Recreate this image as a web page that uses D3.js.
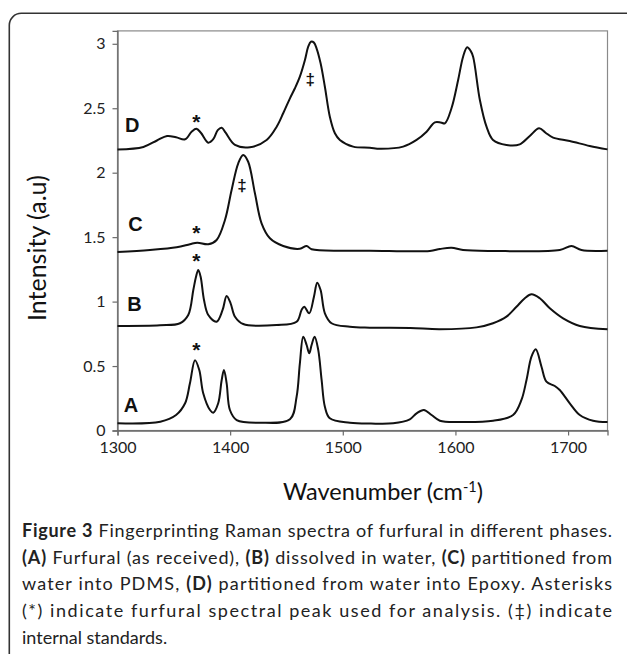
<!DOCTYPE html>
<html>
<head>
<meta charset="utf-8">
<script src="https://cdn.jsdelivr.net/npm/d3@7"></script>
<style>
  html, body { margin: 0; padding: 0; background: #fff; }
  svg { display: block; }
</style>
</head>
<body>
<svg id="chart" width="627" height="654"></svg>
<script>
// ---------------- DATA ----------------
const xTicks = [1300, 1400, 1500, 1600, 1700];
const yTicks = [0, 0.5, 1, 1.5, 2, 2.5, 3];
const xLabel = "Wavenumber (cm";
const yLabel = "Intensity (a.u)";

// [wavenumber, intensity]
const spectrumA = [
  [1300, 0.056], [1338, 0.068], [1352, 0.12], [1360, 0.211], [1364.3, 0.366],
  [1368.8, 0.545], [1372.6, 0.469], [1376.1, 0.289], [1382.1, 0.159], [1385, 0.138],
  [1389.4, 0.211], [1392.5, 0.392], [1394.5, 0.469], [1396.9, 0.366], [1399.8, 0.159],
  [1405.8, 0.081], [1426.4, 0.061], [1453.1, 0.087], [1459, 0.262], [1461.9, 0.521],
  [1464.9, 0.728], [1467.9, 0.663], [1470.2, 0.599], [1472.3, 0.663], [1475, 0.728],
  [1478.2, 0.625], [1481.2, 0.392], [1484.1, 0.185], [1488.5, 0.095], [1506.3, 0.061],
  [1525, 0.054], [1544.7, 0.056], [1559.5, 0.087], [1565.5, 0.133], [1572, 0.159],
  [1578.8, 0.12], [1586.2, 0.076], [1603.9, 0.066], [1633.4, 0.076], [1651.2, 0.12],
  [1658.6, 0.237], [1663.1, 0.392], [1667.5, 0.573], [1671.3, 0.63], [1676.4, 0.495],
  [1680.8, 0.379], [1688.2, 0.345], [1692.6, 0.314], [1701.5, 0.211], [1710.4, 0.12],
  [1722.2, 0.076], [1735, 0.066]
];
const spectrumB = [
  [1300, 0.811], [1337.7, 0.816], [1355.5, 0.832], [1362.8, 0.896], [1367.3, 1.09],
  [1369.7, 1.193], [1371.7, 1.245], [1373.8, 1.193], [1376.8, 1.012], [1380.6, 0.896],
  [1388, 0.844], [1393.3, 0.935], [1396.9, 1.043], [1400.4, 0.987], [1404.3, 0.883],
  [1411.6, 0.826], [1441.3, 0.818], [1459, 0.844], [1463.4, 0.935], [1465.8, 0.96],
  [1470.2, 0.909], [1474.4, 1.038], [1477.3, 1.147], [1480.3, 1.09], [1484.1, 0.909],
  [1490, 0.832], [1506.3, 0.805], [1524, 0.798], [1560, 0.795], [1586, 0.786],
  [1618.7, 0.8], [1633.4, 0.832], [1645.3, 0.883], [1654.2, 0.96], [1661.6, 1.026],
  [1667.5, 1.057], [1674.9, 1.026], [1683.8, 0.948], [1695.6, 0.87], [1710.4, 0.811],
  [1735, 0.785]
];
const spectrumC = [
  [1300, 1.385], [1328.8, 1.4], [1352.5, 1.421], [1364.3, 1.445], [1370.8, 1.457],
  [1380.6, 1.445], [1388, 1.478], [1395.4, 1.633], [1401.3, 1.866], [1407.2, 2.073],
  [1411.6, 2.137], [1416, 2.085], [1422, 1.84], [1427.9, 1.607], [1435.3, 1.491],
  [1447.1, 1.431], [1461.9, 1.41], [1467.9, 1.431], [1472.3, 1.406], [1500.4, 1.395],
  [1524, 1.395], [1577.3, 1.393], [1586.2, 1.408], [1596.5, 1.418], [1606.8, 1.4],
  [1633.4, 1.393], [1692.6, 1.4], [1703, 1.431], [1711.9, 1.4], [1735, 1.395]
];
const spectrumD = [
  [1300, 2.18], [1323, 2.2], [1335, 2.25], [1344, 2.285], [1352, 2.275], [1360, 2.259],
  [1366, 2.32], [1370, 2.341], [1374, 2.31], [1380.6, 2.233], [1385, 2.26], [1389, 2.33],
  [1392.5, 2.349], [1396, 2.31], [1404.3, 2.215], [1417.6, 2.197], [1432.4, 2.254],
  [1441.3, 2.357], [1447.1, 2.461], [1453.1, 2.577], [1457.5, 2.655], [1461.9, 2.745],
  [1466.4, 2.874], [1469.3, 2.978], [1471.7, 3.016], [1474.4, 3.009], [1476.7, 2.965],
  [1480.3, 2.849], [1484.1, 2.667], [1488.5, 2.434], [1493, 2.306], [1497.4, 2.254],
  [1509.2, 2.202], [1524, 2.194], [1533, 2.186], [1553.6, 2.202], [1565.5, 2.254],
  [1574.4, 2.318], [1581.7, 2.391], [1587, 2.39], [1590.6, 2.383], [1596.5, 2.5],
  [1602.4, 2.719], [1606.8, 2.9], [1610.4, 2.973], [1613.5, 2.945], [1615.7, 2.9],
  [1621.7, 2.564], [1627.6, 2.357], [1633.4, 2.254], [1645.3, 2.215], [1657.1, 2.22],
  [1666, 2.285], [1674.3, 2.344], [1680, 2.31], [1686.7, 2.272], [1701.5, 2.246],
  [1719.2, 2.207], [1735, 2.181]
];
const spectra = [spectrumA, spectrumB, spectrumC, spectrumD];

// series letter labels: [text, wavenumber, intensity(baseline)]
const seriesLabels = [["A", 1312, 0.14], ["B", 1315, 0.927], ["C", 1316, 1.548], ["D", 1313, 2.316]];
// asterisks (analysis peak) and double daggers (internal standards): [symbol, wavenumber, intensity(center)]
const markers = [
  ["*", 1370, 0.644], ["*", 1370, 1.338], ["*", 1370, 1.552], ["*", 1370, 2.416],
  ["\u2021", 1410.5, 1.908], ["\u2021", 1471, 2.723]
];

const captionLines = [
  [["Figure 3", true], [" Fingerprinting Raman spectra of furfural in different phases.", false]],
  [["(A)", true], [" Furfural (as received), ", false], ["(B)", true], [" dissolved in water, ", false], ["(C)", true], [" partitioned from", false]],
  [["water into PDMS, ", false], ["(D)", true], [" partitioned from water into Epoxy. Asterisks", false]],
  [["(*) indicate furfural spectral peak used for analysis. (\u2021) indicate", false]],
  [["internal standards.", false]]
];

// ---------------- DRAWING ----------------
const svg = d3.select("#chart");
const plot = { left: 117.5, right: 607.5, top: 30.9, bottom: 430.5 };

const x = d3.scaleLinear().domain([1300, 1735]).range([plot.left, plot.right]);
const y = d3.scaleLinear().domain([0, 3.1]).range([plot.bottom, plot.top]);

// outer rounded frame
svg.append("rect")
  .attr("x", 9.3).attr("y", 13.3).attr("width", 630).attr("height", 700)
  .attr("rx", 12).attr("ry", 12)
  .attr("fill", "none").attr("stroke", "#333").attr("stroke-width", 1.6);

// plot box (top/right)
svg.append("rect")
  .attr("x", plot.left).attr("y", plot.top)
  .attr("width", plot.right - plot.left).attr("height", plot.bottom - plot.top)
  .attr("fill", "none").attr("stroke", "#8a8a8a").attr("stroke-width", 1.2);

const tickFont = "Lato, 'Open Sans', sans-serif";

// axes
const yAxis = d3.axisLeft(y).tickValues(yTicks).tickSize(5).tickPadding(7)
  .tickFormat(d3.format("~g"));
const gy = svg.append("g").attr("transform", `translate(${plot.left},0)`).call(yAxis);
const xAxis = d3.axisBottom(x).tickValues(xTicks).tickSize(5).tickPadding(6)
  .tickFormat(d3.format("d"));
const gx = svg.append("g").attr("transform", `translate(0,${plot.bottom})`).call(xAxis);
[gx, gy].forEach(g => {
  g.select(".domain").attr("stroke", "#6a6a6a").attr("stroke-width", 1.3);
  g.selectAll(".tick line").attr("stroke", "#6a6a6a").attr("stroke-width", 1.2);
  g.selectAll(".tick text").attr("font-family", tickFont).attr("font-size", 16).attr("fill", "#222");
});

// spectra
const line = d3.line()
  .x(d => x(d[0])).y(d => y(d[1]))
  .curve(d3.curveCatmullRom.alpha(0.5));
svg.append("g").selectAll("path").data(spectra).join("path")
  .attr("d", line)
  .attr("fill", "none").attr("stroke", "#111").attr("stroke-width", 2)
  .attr("stroke-linejoin", "round");

// series letters
svg.append("g").selectAll("text").data(seriesLabels).join("text")
  .attr("x", d => x(d[1])).attr("y", d => y(d[2]))
  .attr("text-anchor", "middle")
  .attr("font-family", "'Liberation Sans', Arial, sans-serif")
  .attr("font-weight", "bold").attr("font-size", 20).attr("fill", "#111")
  .text(d => d[0]);

// markers
svg.append("g").selectAll("text").data(markers).join("text")
  .attr("x", d => x(d[1]))
  .attr("y", d => y(d[2]) + (d[0] === "*" ? 10 : 6))
  .attr("text-anchor", "middle")
  .attr("font-family", "'Liberation Sans', Arial, sans-serif")
  .attr("font-weight", "bold")
  .attr("font-size", d => d[0] === "*" ? 21 : 17)
  .attr("fill", "#111")
  .text(d => d[0]);

// axis titles
const titleFont = "Lato, 'Open Sans', sans-serif";
const xt = svg.append("text")
  .attr("x", 383).attr("y", 500)
  .attr("text-anchor", "middle")
  .attr("font-family", titleFont).attr("font-size", 23.5).attr("fill", "#111");
xt.append("tspan").text(xLabel);
xt.append("tspan").attr("font-size", 14.5).attr("dy", -8.5).text("-1");
xt.append("tspan").attr("dy", 8.5).text(")");

svg.append("text")
  .attr("transform", `translate(46,248) rotate(-90)`)
  .attr("text-anchor", "middle")
  .attr("font-family", titleFont).attr("font-size", 25).attr("fill", "#111")
  .text(yLabel);

// caption
const capFont = "Lato, 'Open Sans', sans-serif";
const capBase = [537, 563.5, 590.3, 617, 643.8];
captionLines.forEach((parts, i) => {
  const t = svg.append("text")
    .attr("x", 22).attr("y", capBase[i])
    .attr("font-family", capFont).attr("font-size", 18).attr("fill", "#222");
  parts.forEach(p => {
    t.append("tspan").attr("font-weight", p[1] ? "bold" : "normal").text(p[0]);
  });
  if (i < captionLines.length - 1) {
    t.attr("textLength", 590).attr("lengthAdjust", "spacing");
  }
});
</script>
</body>
</html>
